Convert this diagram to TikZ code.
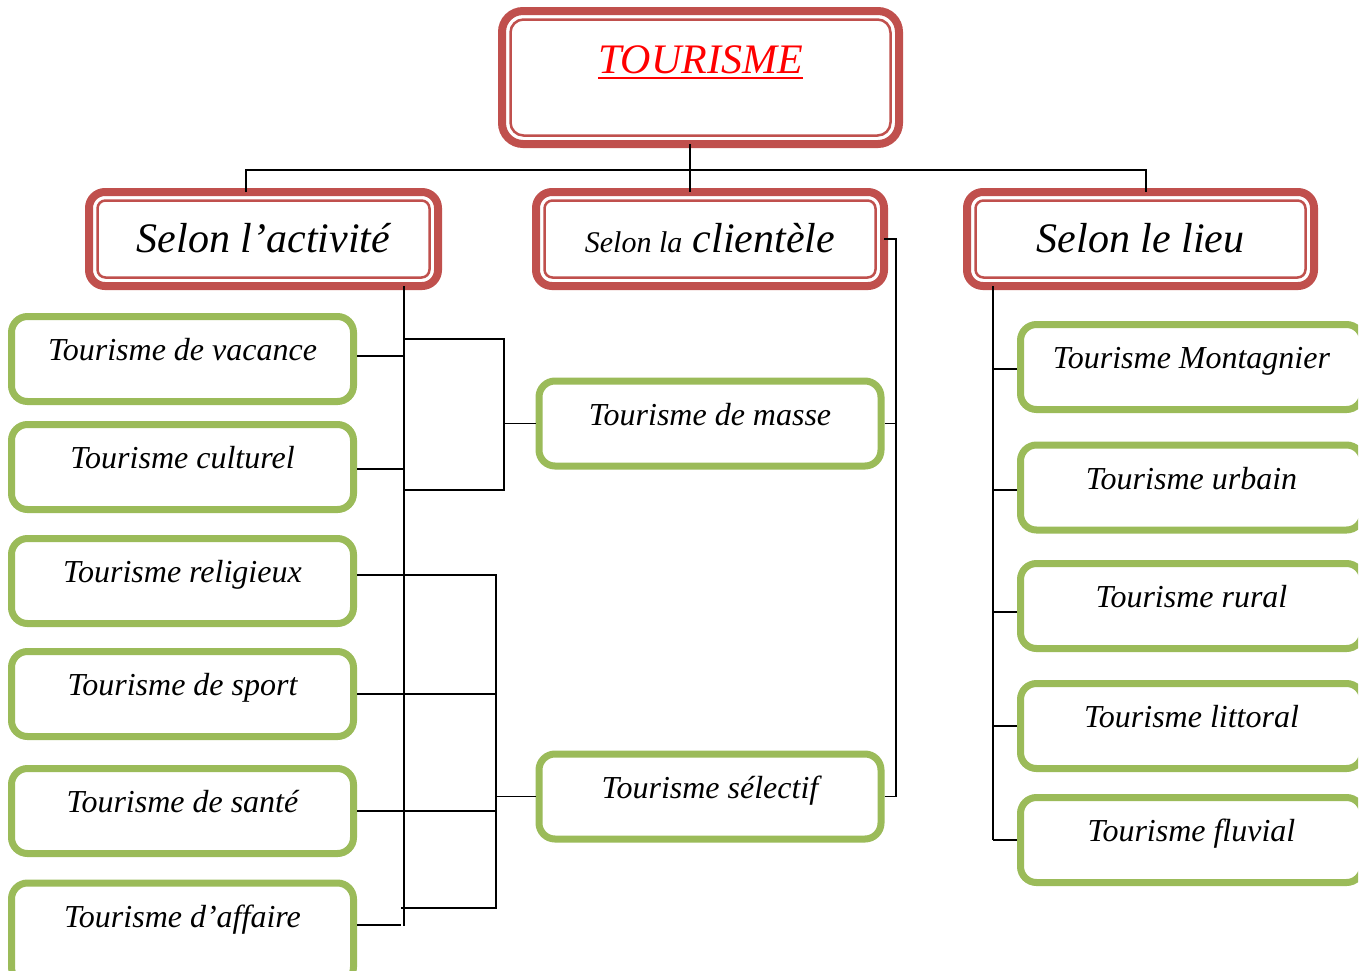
\documentclass[tikz,border=0pt]{standalone}
\usepackage{fontspec}
\setmainfont{Liberation Serif}
\definecolor{redb}{HTML}{C0504D}
\definecolor{greenb}{HTML}{9BBB59}
\newcommand{\ulred}[1]{\setbox0=\hbox{#1}\rlap{\rule[-6pt]{\wd0}{2pt}}\box0}
\begin{document}
\begin{tikzpicture}[x=1pt,y=-1pt,
 redbox/.style={draw=redb, line width=8pt, rounded corners=16pt, fill=white, inner sep=0pt, outer sep=0pt,
   font=\itshape\fontsize{42}{48}\selectfont, text height=36pt, text depth=10pt},
 redthin/.style={draw=redb, line width=2.5pt},
 greenbox/.style={draw=greenb, line width=7pt, rounded corners=16pt, fill=white, inner sep=0pt,
   minimum width=342pt, minimum height=85pt, font=\itshape\fontsize{32}{38}\selectfont,
   text height=15pt, text depth=12pt},
 conn/.style={draw=black, line width=1.6pt}]
\useasboundingbox (0,0) rectangle (1363,970);
\fill[white] (0,0) rectangle (1363,970);
\begin{scope}
\clip (0,0) rectangle (1358,970);
% red boxes
\node[redbox, minimum width=397pt, minimum height=133pt, rounded corners=21pt,
      text height=20pt, text depth=29pt, text=red] (top) at (700.5,77.5) {\ulred{TOURISME}};
\node[redbox, minimum width=349pt, minimum height=94pt] (act) at (263.5,239) {Selon l’activité};
\node[redbox, minimum width=348pt, minimum height=94pt] (cl) at (710,239) {{\fontsize{30}{36}\selectfont Selon la} clientèle};
\node[redbox, minimum width=347pt, minimum height=94pt] (lieu) at (1140.5,239) {Selon le lieu};
\foreach \nn/\rr in {top/13,act/8,cl/8,lieu/8}
  \draw[redthin, rounded corners=\rr pt] ([shift={(8.5pt,-8.5pt)}]\nn.north west) rectangle ([shift={(-8.5pt,8.5pt)}]\nn.south east);
% green boxes, left
\node[greenbox] (v1) at (182.5,359) {Tourisme de vacance};
\node[greenbox] (v2) at (182.5,467) {Tourisme culturel};
\node[greenbox] (v3) at (182.5,581) {Tourisme religieux};
\node[greenbox] (v4) at (182.5,694) {Tourisme de sport};
\node[greenbox] (v5) at (182.5,811) {Tourisme de santé};
\node[greenbox, minimum height=100pt, text depth=27pt] (v6) at (182.5,933) {Tourisme d’affaire};
% middle
\node[greenbox] (m) at (710,423.5) {Tourisme de masse};
\node[greenbox] (s) at (710,796.5) {Tourisme sélectif};
% right
\node[greenbox] (r1) at (1191.5,367) {Tourisme Montagnier};
\node[greenbox] (r2) at (1191.5,487.5) {Tourisme urbain};
\node[greenbox] (r3) at (1191.5,606) {Tourisme rural};
\node[greenbox] (r4) at (1191.5,726) {Tourisme littoral};
\node[greenbox] (r5) at (1191.5,840) {Tourisme fluvial};
% connectors: top level
\coordinate (hub) at (690,170);
\coordinate (hl) at (246,170);
\coordinate (hr) at (1146,170);
\draw[conn] (top.south -| hub) -- (hub |- cl.north);
\draw[conn] (act.north -| hl) -- (hl) -- (hr) -- (lieu.north -| hr);
% left spine
\coordinate (la) at (404,926);
\draw[conn] (act.south -| la) -- (la);
\draw[conn] ([yshift=3pt]v1.east) -| (la);
\draw[conn] ([yshift=-2pt]v2.east) -| (la);
\coordinate (a6) at (401,925);
\draw[conn] ([yshift=8pt]v6.east) -- (a6);
% masse bracket
\coordinate (m1) at (404,339);
\coordinate (m2) at (404,490);
\coordinate (mj) at (504,423.5);
\draw[conn] (m1) -| (mj) |- (m2);
\draw[conn] (mj) -- (m.west);
% selectif bracket
\coordinate (sj) at (496,796.5);
\coordinate (s6) at (401,908);
\draw[conn] ([yshift=6pt]v3.east) -| (sj);
\draw[conn] (v4.east) -| (sj);
\draw[conn] (v5.east) -| (sj);
\draw[conn] (s6) -| (sj);
\draw[conn] (sj) -- (s.west);
% clientele
\coordinate (cj) at (896,423.5);
\draw[conn] (cl.east) -| (cj);
\draw[conn] (m.east) -- (cj);
\draw[conn] (s.east) -| (cj);
% lieu
\coordinate (lj) at (993,840);
\draw[conn] (lieu.south -| lj) -- (lj);
\draw[conn] ([yshift=-2pt]r1.west) -| (lj);
\draw[conn] ([yshift=-2.5pt]r2.west) -| (lj);
\draw[conn] ([yshift=-6pt]r3.west) -| (lj);
\draw[conn] (r4.west) -| (lj);
\draw[conn] (r5.west) -- (lj);
\end{scope}
\end{tikzpicture}
\end{document}
